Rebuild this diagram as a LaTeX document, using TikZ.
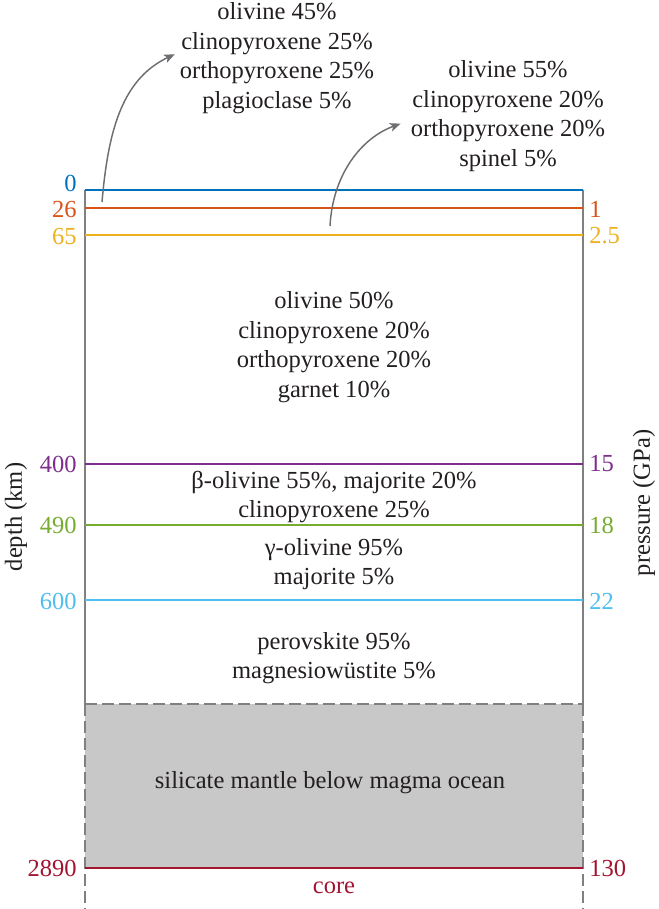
\documentclass[tikz,border=0pt]{standalone}
\usepackage{fontspec}
\setmainfont{Liberation Serif}
\usetikzlibrary{arrows.meta}

\definecolor{ink}{RGB}{35,31,32}
\definecolor{boxgray}{RGB}{128,128,128}
\definecolor{arrowgray}{RGB}{109,110,113}
\definecolor{mantlegray}{RGB}{200,200,200}
\definecolor{cZero}{RGB}{0,114,189}
\definecolor{cCrust}{RGB}{217,83,25}
\definecolor{cSpinel}{RGB}{237,177,32}
\definecolor{cBeta}{RGB}{126,47,142}
\definecolor{cGamma}{RGB}{119,172,48}
\definecolor{cPerov}{RGB}{77,190,238}
\definecolor{cCore}{RGB}{162,20,47}

\begin{document}
\begin{tikzpicture}[
        x=0.75pt, y=-0.75pt,
        every node/.style={font=\fontsize{18.4}{22.1}\selectfont, inner sep=0pt},
        phase/.style={text=ink, align=center},
        depthlabel/.style={anchor=east},
        presslabel/.style={anchor=west},
        boundary/.style={line width=1pt},
        wall/.style={draw=boxgray, line width=0.9pt},
        dashwall/.style={draw=boxgray, line width=0.9pt, dash pattern=on 9pt off 3.75pt},
        uparrow/.style={draw=arrowgray, line width=1.1pt,
            -{Stealth[length=8pt, width=6.5pt, inset=2pt]}},
    ]
        \useasboundingbox (0,0) rectangle (659,909);

        % Lower mantle below the magma ocean
        \fill[mantlegray] (85,704) rectangle (583,868);
        \draw[dashwall] (85,704) -- (583,704);
        \draw[dashwall] (85,704) -- (85,909);
        \draw[dashwall] (583,704) -- (583,909);
        \draw[wall] (85,190) -- (85,704);
        \draw[wall] (583,190) -- (583,704);

        % Boundaries
        \draw[boundary, cZero] (85,190) -- (583,190);
        \draw[boundary, cCrust] (85,208) -- (583,208);
        \draw[boundary, cSpinel] (85,235) -- (583,235);
        \draw[boundary, cBeta] (85,464) -- (583,464);
        \draw[boundary, cGamma] (85,525) -- (583,525);
        \draw[boundary, cPerov] (85,600) -- (583,600);
        \draw[boundary, cCore] (85,868) -- (583,868);

        % Depth labels
        \node[depthlabel, text=cZero] (d0) at (77,183) {0};
        \node[depthlabel, text=cCrust] (d26) at (77,209) {26};
        \node[depthlabel, text=cSpinel] (d65) at (77,236) {65};
        \node[depthlabel, text=cBeta] (d400) at (77,464) {400};
        \node[depthlabel, text=cGamma] (d490) at (77,525) {490};
        \node[depthlabel, text=cPerov] (d600) at (77,601) {600};
        \node[depthlabel, text=cCore] (d2890) at (77,868) {2890};

        % Pressure labels
        \node[presslabel, text=cCrust] (p1) at (589,209) {1};
        \node[presslabel, text=cSpinel] (p25) at (589,236) {2.5};
        \node[presslabel, text=cBeta] (p15) at (589,464) {15};
        \node[presslabel, text=cGamma] (p18) at (589,525) {18};
        \node[presslabel, text=cPerov] (p22) at (589,601) {22};
        \node[presslabel, text=cCore] (p130) at (589,868) {130};

        % Axis titles
        \node[text=ink, rotate=90] (depth) at (16,517) {depth (km)};
        \node[text=ink, rotate=90] (pressure) at (644,503) {pressure (GPa)};

        % Mineral assemblages
        \node[phase] (plag) at (277,58) {olivine 45\%\\clinopyroxene 25\%\\orthopyroxene 25\%\\plagioclase 5\%};
        \node[phase] (spin) at (508,116) {olivine 55\%\\clinopyroxene 20\%\\orthopyroxene 20\%\\spinel 5\%};
        \node[phase] (garn) at (334,347) {olivine 50\%\\clinopyroxene 20\%\\orthopyroxene 20\%\\garnet 10\%};
        \node[phase] (beta) at (334,497) {β-olivine 55\%, majorite 20\%\\clinopyroxene 25\%};
        \node[phase] (gamma) at (334,564) {γ-olivine 95\%\\majorite 5\%};
        \node[phase] (perov) at (334,658) {perovskite 95\%\\magnesiowüstite 5\%};
        \node[phase] (silicate) at (330,783) {silicate mantle below magma ocean};
        \node[text=cCore] (core) at (334,888) {core};

        % Arrows out of the thin layers
        \coordinate (crust) at (102,202);
        \coordinate (spinelzone) at (330,226);
        \draw[uparrow, shorten >=4pt] (crust) to[out=85, in=205] ([yshift=4.5pt]plag.west);
        \draw[uparrow, shorten >=8pt] (spinelzone) to[out=87, in=200] ([yshift=-3pt]spin.west);
    \end{tikzpicture}
\end{document}
